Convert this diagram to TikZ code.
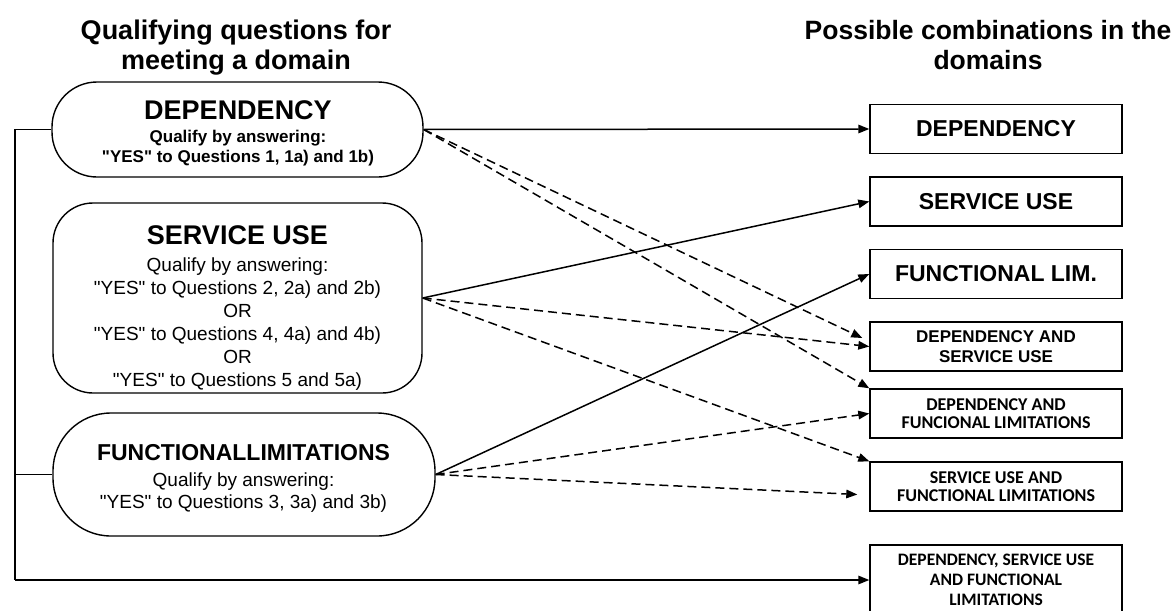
\documentclass[tikz,border=0pt]{standalone}
\usepackage{fontspec}
\setmainfont{Liberation Sans}
\newfontfamily\calibri{Carlito}
\usetikzlibrary{arrows.meta,calc}

\newcommand{\fsz}[2]{\fontsize{#1}{#2}\selectfont}
\newcommand{\yes}{\textquotedbl YES\textquotedbl}

\tikzset{
  domainbox/.style={draw, line width=1.4pt, inner sep=0pt},
  domaintext/.style={align=center, inner sep=0pt},
  combo/.style={draw, line width=1.4pt, align=center, inner sep=0pt,
    minimum width=252pt, minimum height=49pt},
  link/.style={line width=1.5pt, -{Triangle[length=11pt,width=8.5pt]}},
  dashlink/.style={link, dash pattern=on 9pt off 5pt},
}

\begin{document}
\begin{tikzpicture}[x=1pt,y=-1pt]
  \useasboundingbox (0,0) rectangle (1174,610);

  % headings
  \node[align=center, font=\bfseries\fsz{27}{30}] (lhead) at (236,47.7) {Qualifying questions for\\meeting a domain};
  \node[align=center, font=\bfseries\fsz{26.5}{30}] (rhead) at (988,44.9) {Possible combinations in the\\domains};

  % domains
  \node[domainbox, rounded corners=45pt, minimum width=371pt, minimum height=95pt] (dep) at (237.5,129.5) {};
  \node[domaintext, font=\bfseries\fsz{17}{20}] (deptxt) at (238,133.5) {{\fsz{27}{30}DEPENDENCY}\\[3.3pt] Qualify by answering:\\\yes{} to Questions 1, 1a) and 1b)};

  \node[domainbox, rounded corners=40pt, minimum width=369pt, minimum height=190pt] (su) at (237.5,298) {};
  \node[domaintext, font=\fsz{19}{23}] (sutxt) at (237.5,308.1) {{\bfseries\fsz{27}{30}SERVICE USE}\\[4.1pt] Qualify by answering:\\\yes{} to Questions 2, 2a) and 2b)\\OR\\\yes{} to Questions 4, 4a) and 4b)\\OR\\\yes{} to Questions 5 and 5a)};

  \node[domainbox, rounded corners=58pt, minimum width=382pt, minimum height=123pt] (fl) at (244,474.5) {};
  \node[domaintext, font=\fsz{19}{22}] (fltxt) at (243.5,478.3) {{\bfseries\fsz{23}{26}FUNCTIONALLIMITATIONS}\\[4.6pt] Qualify by answering:\\\yes{} to Questions 3, 3a) and 3b)};

  % combinations
  \node[combo, font=\bfseries\fsz{23}{26}] (r1) at (996,129) {DEPENDENCY};
  \node[combo, font=\bfseries\fsz{23}{26}] (r2) at (996,201.5) {SERVICE USE};
  \node[combo, font=\bfseries\fsz{23}{26}] (r3) at (996,274) {FUNCTIONAL LIM.};
  \node[combo, font=\bfseries\fsz{17}{20}] (r4) at (996,346.5) {DEPENDENCY AND\\SERVICE USE};
  \node[combo, font=\calibri\bfseries\fsz{18}{18}] (r5) at (996,413.5) {DEPENDENCY AND\\FUNCIONAL LIMITATIONS};
  \node[combo, font=\calibri\bfseries\fsz{18}{18}] (r6) at (996,486.5) {SERVICE USE AND\\FUNCTIONAL LIMITATIONS};
  \node[combo, font=\calibri\bfseries\fsz{17.5}{20}, minimum height=70pt] (r7) at (996,580) {DEPENDENCY, SERVICE USE\\AND FUNCTIONAL\\LIMITATIONS};

  % bracket on the left
  \coordinate (corner) at (15,580);
  \draw[line width=1.1pt] (dep.west) -| (corner);
  \draw[line width=1.1pt] ($(su.west)+(0,9)$) -- ($(su.west)+(0,9)$ -| corner);
  \draw[line width=1.1pt] (fl.west) -- (fl.west -| corner);
  \draw[link] (corner) -- (r7.west);

  % links
  \draw[link] (dep.east) -- (r1.west);
  \draw[dashlink] (dep.east) -- ($(r4.west)+(-7,-8.5)$);
  \draw[dashlink] (dep.east) -- (r5.north west);
  \draw[link] (su.east) -- (r2.west);
  \draw[dashlink] (su.east) -- (r4.west);
  \draw[dashlink] (su.east) -- (r6.north west);
  \draw[link] (fl.east) -- (r3.west);
  \draw[dashlink] (fl.east) -- (r5.west);
  \draw[dashlink] (fl.east) -- ($(r6.west)+(-12,8)$);
\end{tikzpicture}
\end{document}
